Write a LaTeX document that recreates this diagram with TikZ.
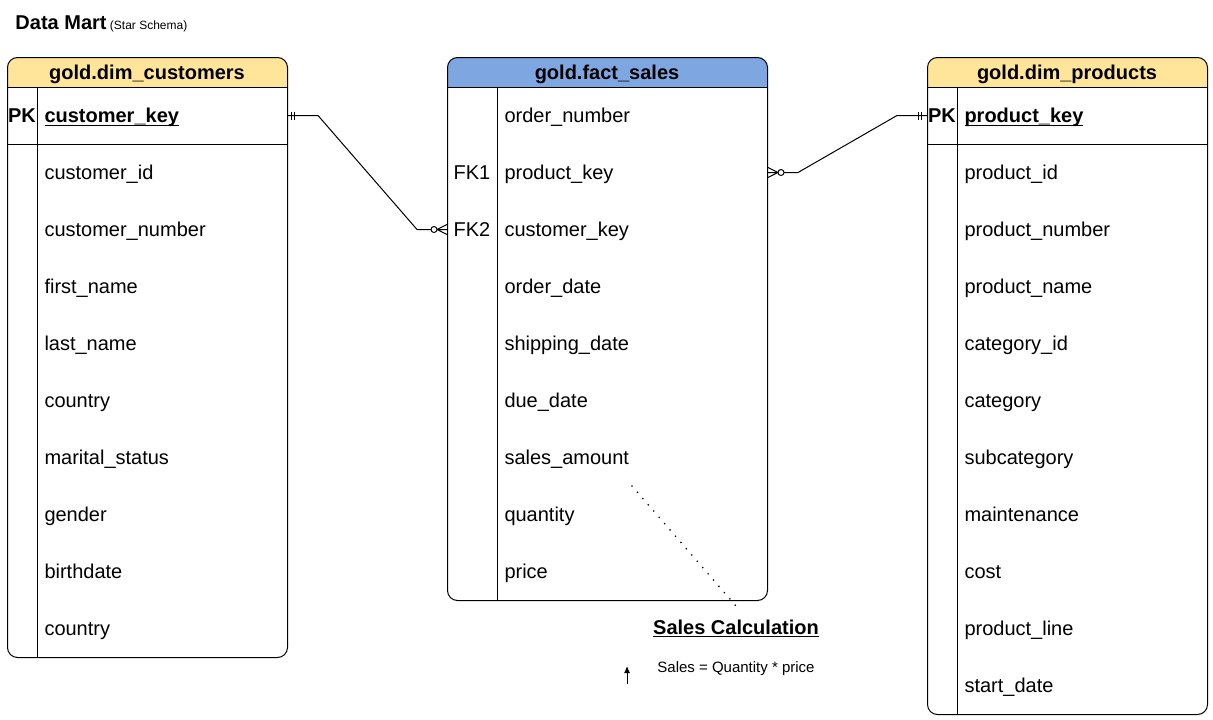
\documentclass[tikz,border=0pt]{standalone}
\usepackage{fontspec}
\setmainfont{Liberation Sans}
\usetikzlibrary{positioning,arrows.meta}
\definecolor{dimhead}{HTML}{FFE599}
\definecolor{facthead}{HTML}{7EA6E0}
\newcommand\keyul[2][4pt]{\setbox0\hbox{#2}\rlap{\rule[-#1]{\wd0}{1.4pt}}\box0}
\begin{document}
\begin{tikzpicture}[x=1pt,y=-1pt,line join=round,line width=1pt,
  tbl/.style={draw,rounded corners=10pt,inner sep=0pt,anchor=north west,
    path picture={\fill[#1,sharp corners] (path picture bounding box.north west) rectangle ([yshift=-30pt]path picture bounding box.north east);}},
  head/.style={font=\fontsize{20}{24}\selectfont\bfseries,anchor=base},
  field/.style={font=\fontsize{20}{24}\selectfont,anchor=west,inner sep=0pt,text height=17pt,text depth=4pt},
  keyfield/.style={field,font=\fontsize{20}{24}\selectfont\bfseries},
  keytag/.style={field,anchor=center}]
\useasboundingbox (0,0) rectangle (1213,720);
\node[anchor=base west,inner sep=0pt] (title) at (15,29) {\fontsize{20}{24}\selectfont\bfseries Data Mart{\fontsize{12}{14}\selectfont\mdseries\ (Star Schema)}};
% customers
\node[tbl=dimhead,minimum width=280pt,minimum height=600pt] (dimcust) at (7,57) {};
\node[head] (custhead) at (147,79) {gold.dim\_customers};
\draw (7,87) -- (287,87) (7,144) -- (287,144) (37,87) -- (37,657);
\node[keytag,font=\fontsize{20}{24}\selectfont\bfseries] (custpk) at (22,115.5) {PK};
\node[keyfield] (cust0) at (44,115.5) {\keyul{customer\_key}};
\foreach \f [count=\i from 1] in {customer\_id,customer\_number,first\_name,last\_name,country,marital\_status,gender,birthdate,country}
  \node[field] (cust\i) at (44,115.5+57*\i) {\f};
% fact
\node[tbl=facthead,minimum width=320pt,minimum height=543pt] (factsales) at (447,57) {};
\node[head] (facthead) at (607,79) {gold.fact\_sales};
\draw (447,87) -- (767,87) (497,87) -- (497,600);
\foreach \f [count=\i from 0] in {order\_number,product\_key,customer\_key,order\_date,shipping\_date,due\_date,sales\_amount,quantity,price}
  \node[field] (sale\i) at (504,115.5+57*\i) {\f};
\node[keytag] (fk1) at (472,172.5) {FK1};
\node[keytag] (fk2) at (472,229.5) {FK2};
% products
\node[tbl=dimhead,minimum width=280pt,minimum height=657pt] (dimprod) at (927,57) {};
\node[head] (prodhead) at (1067,79) {gold.dim\_products};
\draw (927,87) -- (1207,87) (927,144) -- (1207,144) (957,87) -- (957,714);
\node[keytag,font=\fontsize{20}{24}\selectfont\bfseries] (prodpk) at (942,115.5) {PK};
\node[keyfield] (prod0) at (964,115.5) {\keyul{product\_key}};
\foreach \f [count=\i from 1] in {product\_id,product\_number,product\_name,category\_id,category,subcategory,maintenance,cost,product\_line,start\_date}
  \node[field] (prod\i) at (964,115.5+57*\i) {\f};
% relations
\coordinate (c1) at (dimcust.east |- cust0);
\coordinate (c2) at (factsales.west |- sale2);
\draw (c1) -- ++(30,0) -- ([xshift=-30pt]c2) -- ([xshift=-16pt]c2);
\draw (c1) ++(3,-4) -- ++(0,8) (c1) ++(6,-4) -- ++(0,8);
\draw ([xshift=-13pt]c2) circle[radius=3pt];
\draw ([xshift=-10pt]c2) -- ++(10,-5) ([xshift=-10pt]c2) -- ++(10,5) ([xshift=-10pt]c2) -- (c2);
\coordinate (c3) at (factsales.east |- sale1);
\coordinate (c4) at (dimprod.west |- prod0);
\draw ([xshift=16pt]c3) -- ([xshift=30pt]c3) -- ([xshift=-30pt]c4) -- (c4);
\draw (c4) ++(-6,-4) -- ++(0,8) (c4) ++(-9,-4) -- ++(0,8);
\draw ([xshift=13pt]c3) circle[radius=3pt];
\draw ([xshift=10pt]c3) -- ++(-10,-5) ([xshift=10pt]c3) -- ++(-10,5) ([xshift=10pt]c3) -- (c3);
% note
\node[anchor=base,inner sep=0pt,font=\fontsize{20}{24}\selectfont\bfseries] (calc) at (736,634.5) {\keyul[2.5pt]{Sales Calculation}};
\node[anchor=base,inner sep=0pt,font=\fontsize{15}{18}\selectfont] (formula) at (736,672) {Sales = Quantity * price};
\coordinate (d1) at (632,486);
\coordinate (d2) at (736,606);
\draw[line cap=round,dash pattern=on 0pt off 8.3pt,line width=1.8pt] (d1) -- (d2);
\draw[line width=1pt,-{Latex[length=7pt,width=6pt]}] (627,684) -- (627,666);
\end{tikzpicture}
\end{document}
